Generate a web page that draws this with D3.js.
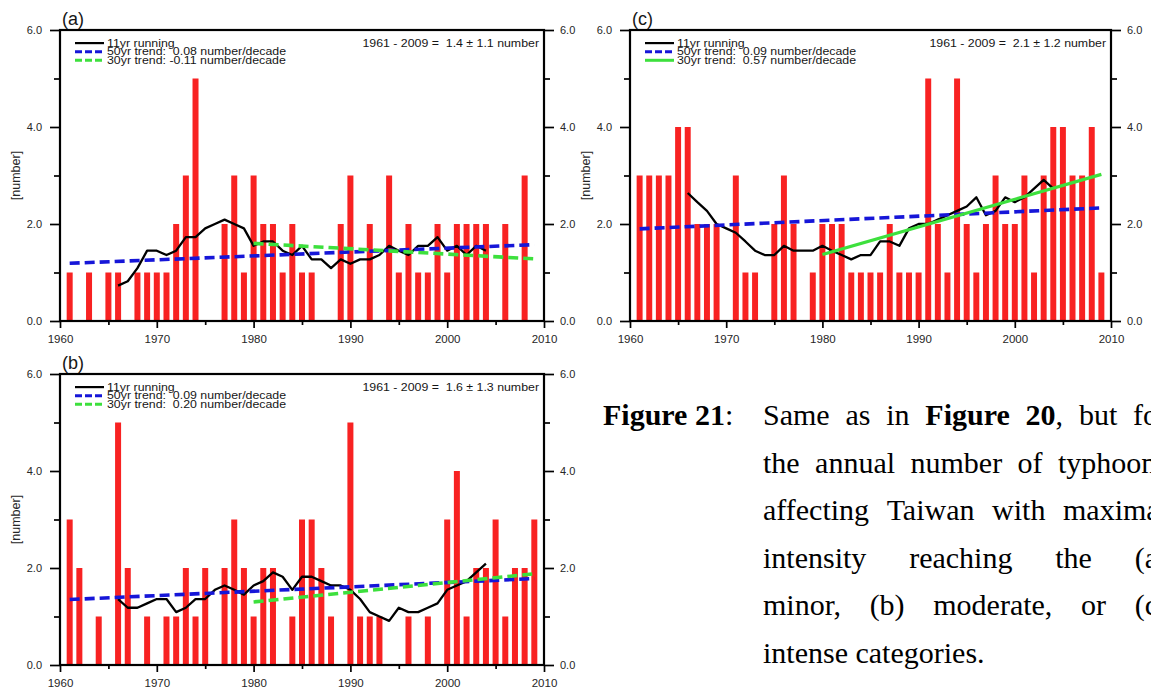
<!DOCTYPE html>
<html>
<head>
<meta charset="utf-8">
<script src="https://cdn.jsdelivr.net/npm/d3@7"></script>
<style>
  html, body { margin: 0; padding: 0; background: #fff; overflow: hidden; }
  svg { display: block; }
  svg text { white-space: pre; }
</style>
</head>
<body>
<svg id="fig" width="1151" height="688"></svg>
<script>
// Annual counts of typhoons affecting Taiwan, 1961-2009, by maximal intensity category
const firstYear = 1961;
const lastYear = 2009;

const minorCounts = [1,0,1,0,1,1,0,1,1,1, 1,2,3,5,0,0,2,3,1,3, 2,2,1,2,1,1,0,0,2,3, 0,2,0,3,1,2,1,1,2,1, 2,2,2,2,0,2,0,3,0];
const moderateCounts = [3,2,0,1,0,5,2,0,1,0, 1,1,2,1,2,0,2,3,2,1, 2,2,0,1,3,3,2,1,0,5, 1,1,1,0,0,1,0,1,0,3, 4,1,2,2,3,1,2,2,3];
const intenseCounts = [3,3,3,3,4,4,2,2,2,0, 3,1,1,0,2,3,2,0,1,2, 2,2,1,1,1,1,2,1,1,1, 5,2,1,5,2,1,2,3,2,2, 3,1,3,4,4,3,3,4,1];

// 11-year running means, centred, 1966-2004
const runningStart = 1966;
const minorRunning = [0.73,0.82,1.09,1.45,1.45,1.36,1.45,1.73,1.73,1.91, 2.00,2.09,2.00,1.91,1.55,1.64,1.64,1.45,1.36,1.55, 1.27,1.27,1.09,1.27,1.18,1.27,1.27,1.36,1.55,1.45, 1.36,1.55,1.55,1.73,1.45,1.55,1.36,1.55,1.45];
const moderateRunning = [1.36,1.18,1.18,1.27,1.36,1.36,1.09,1.18,1.36,1.36, 1.55,1.64,1.55,1.45,1.64,1.73,1.91,1.82,1.55,1.82, 1.82,1.73,1.64,1.64,1.55,1.36,1.09,1.00,0.91,1.18, 1.09,1.09,1.18,1.27,1.55,1.64,1.73,1.91,2.09];
const intenseRunning = [2.64,2.45,2.27,2.00,1.91,1.82,1.64,1.45,1.36,1.36, 1.55,1.45,1.45,1.45,1.55,1.45,1.36,1.27,1.36,1.36, 1.64,1.64,1.55,1.91,2.00,2.00,2.09,2.18,2.27,2.36, 2.55,2.18,2.27,2.55,2.45,2.55,2.73,2.91,2.73];

// Linear trends: value at the start year and slope (number/decade)
const trend50Start = 1961;
const trend30Start = 1980;
const minorTrend50 = [1.19, 0.08];
const minorTrend30 = [1.60, -0.11];
const moderateTrend50 = [1.35, 0.09];
const moderateTrend30 = [1.30, 0.20];
const intenseTrend50 = [1.90, 0.09];
const intenseTrend30 = [1.37, 0.57];

// Text
const panelLetters = ["(a)", "(b)", "(c)"];
const minorLegend = ["11yr running", "50yr trend:  0.08 number/decade", "30yr trend: -0.11 number/decade"];
const moderateLegend = ["11yr running", "50yr trend:  0.09 number/decade", "30yr trend:  0.20 number/decade"];
const intenseLegend = ["11yr running", "50yr trend:  0.09 number/decade", "30yr trend:  0.57 number/decade"];
const statTexts = ["1961 - 2009 =  1.4 \u00b1 1.1 number", "1961 - 2009 =  1.6 \u00b1 1.3 number", "1961 - 2009 =  2.1 \u00b1 1.2 number"];
const yTicksMajor = [0, 2, 4, 6];
const yTicksMinor = [1, 3, 5];
const xTicksMajor = [1960, 1970, 1980, 1990, 2000, 2010];
const xTicksMinor = [1965, 1975, 1985, 1995, 2005];
const yAxisTitle = "[number]";

const panels = [
  { letter: panelLetters[0], counts: minorCounts, running: minorRunning, t50: minorTrend50, t30: minorTrend30,
    legend: minorLegend, stat: statTexts[0], solid30: false, box: { x0: 60, x1: 544, y0: 30, y1: 321 } },
  { letter: panelLetters[1], counts: moderateCounts, running: moderateRunning, t50: moderateTrend50, t30: moderateTrend30,
    legend: moderateLegend, stat: statTexts[1], solid30: false, box: { x0: 60, x1: 544, y0: 374, y1: 665 } },
  { letter: panelLetters[2], counts: intenseCounts, running: intenseRunning, t50: intenseTrend50, t30: intenseTrend30,
    legend: intenseLegend, stat: statTexts[2], solid30: true, box: { x0: 630, x1: 1111, y0: 30, y1: 321 } }
];

const RED = "#f82222", BLUE = "#1616d8", GREEN = "#3de03d", INK = "#161616";
const SANS = "'Liberation Sans', Arial, Helvetica, sans-serif";
const SERIF = "'Liberation Serif', 'Times New Roman', serif";

const svg = d3.select("#fig");

function drawPanel(p) {
  const b = p.box;
  const x = d3.scaleLinear().domain([1960, 2010]).range([b.x0, b.x1]);
  const y = d3.scaleLinear().domain([0, 6]).range([b.y1, b.y0]);
  const g = svg.append("g");
  const barW = (x(1961) - x(1960)) * 0.62;

  // yearly bars
  g.append("g").selectAll("rect")
    .data(p.counts.map((v, i) => ({ year: firstYear + i, v })).filter(d => d.v > 0))
    .join("rect")
    .attr("x", d => x(d.year) - barW / 2)
    .attr("width", barW)
    .attr("y", d => y(d.v))
    .attr("height", d => y(0) - y(d.v))
    .attr("fill", RED);

  const ln = d3.line().x(d => x(d.yr)).y(d => y(d.v));

  // 11yr running mean
  g.append("path")
    .datum(p.running.map((v, i) => ({ yr: runningStart + i, v })))
    .attr("d", ln).attr("fill", "none").attr("stroke", "#000").attr("stroke-width", 2.3)
    .attr("stroke-linejoin", "round");

  // linear trends
  const t50 = [trend50Start, lastYear].map(yr => ({ yr, v: p.t50[0] + p.t50[1] * (yr - trend50Start) / 10 }));
  const t30 = [trend30Start, lastYear].map(yr => ({ yr, v: p.t30[0] + p.t30[1] * (yr - trend30Start) / 10 }));
  g.append("path").datum(t50).attr("d", ln).attr("fill", "none")
    .attr("stroke", BLUE).attr("stroke-width", 3.6).attr("stroke-dasharray", "10,5");
  g.append("path").datum(t30).attr("d", ln).attr("fill", "none")
    .attr("stroke", GREEN).attr("stroke-width", p.solid30 ? 3.2 : 3.6)
    .attr("stroke-dasharray", p.solid30 ? null : "10,5");

  // axes
  const styleAxis = (sel, size) => {
    sel.select(".domain").remove();
    sel.selectAll("line").attr("stroke", "#000").attr("stroke-width", 1.7);
    sel.selectAll("text").attr("font-family", SANS).attr("font-size", size).attr("fill", "#262626");
  };
  const fmt = d3.format(".1f");
  g.append("g").attr("transform", `translate(${b.x0},0)`)
    .call(d3.axisLeft(y).tickValues(yTicksMajor).tickFormat(fmt).tickSize(10).tickPadding(8))
    .call(s => styleAxis(s, 11));
  g.append("g").attr("transform", `translate(${b.x0},0)`)
    .call(d3.axisLeft(y).tickValues(yTicksMinor).tickFormat("").tickSize(6))
    .call(s => styleAxis(s, 11));
  g.append("g").attr("transform", `translate(${b.x1},0)`)
    .call(d3.axisRight(y).tickValues(yTicksMajor).tickFormat(fmt).tickSize(10).tickPadding(6))
    .call(s => styleAxis(s, 11));
  g.append("g").attr("transform", `translate(${b.x1},0)`)
    .call(d3.axisRight(y).tickValues(yTicksMinor).tickFormat("").tickSize(6))
    .call(s => styleAxis(s, 11));
  g.append("g").attr("transform", `translate(0,${b.y1})`)
    .call(d3.axisBottom(x).tickValues(xTicksMajor).tickFormat(d3.format("d")).tickSize(7).tickPadding(7))
    .call(s => styleAxis(s, 11.5));
  g.append("g").attr("transform", `translate(0,${b.y1})`)
    .call(d3.axisBottom(x).tickValues(xTicksMinor).tickFormat("").tickSize(4))
    .call(s => styleAxis(s, 11.5));

  // frame
  g.append("rect").attr("x", b.x0).attr("y", b.y0).attr("width", b.x1 - b.x0).attr("height", b.y1 - b.y0)
    .attr("fill", "none").attr("stroke", "#000").attr("stroke-width", 2.2);

  // y title
  g.append("text")
    .attr("transform", `translate(${b.x0 - 40},${(b.y0 + b.y1) / 2}) rotate(-90)`)
    .attr("text-anchor", "middle").attr("font-family", SANS).attr("font-size", 12.5).attr("fill", "#262626")
    .text(yAxisTitle);

  // panel letter
  g.append("text")
    .attr("x", b.x0 + 2).attr("y", b.y0 - 5)
    .attr("font-family", SANS).attr("font-size", 18).attr("fill", INK).text(p.letter);

  // legend
  const lg = g.append("g");
  const rowBase = b.y0 + 16.5, rowStep = 8.6;
  const lineStyles = [
    { c: "#000", w: 2.2, dash: null },
    { c: BLUE, w: 3, dash: "7,3" },
    { c: GREEN, w: 3, dash: p.solid30 ? null : "7,3" }
  ];
  p.legend.forEach((t, i) => {
    const by = rowBase + i * rowStep;
    lg.append("line").attr("x1", b.x0 + 15).attr("x2", b.x0 + 44)
      .attr("y1", by - 3.4).attr("y2", by - 3.4)
      .attr("stroke", lineStyles[i].c).attr("stroke-width", lineStyles[i].w)
      .attr("stroke-dasharray", lineStyles[i].dash);
    lg.append("text")
      .attr("transform", `translate(${b.x0 + 47},${by}) scale(1.2,1)`)
      .attr("font-family", SANS).attr("font-size", 10.3).attr("fill", INK).text(t);
  });

  // mean +/- sd
  g.append("text")
    .attr("transform", `translate(${b.x1 - 5},${rowBase}) scale(1.2,1)`)
    .attr("text-anchor", "end").attr("font-family", SANS).attr("font-size", 10.3).attr("fill", INK)
    .text(p.stat);
}

panels.forEach(drawPanel);

// Caption, justified between a left and right margin
const capLeft = 763, capRight = 1168, capLabelX = 603;
const capBaselines = [425, 472.6, 520.2, 567.8, 615.4, 663];
const capLines = [
  [[["Same", 0]], [["as", 0]], [["in", 0]], [["Figure", 1]], [["20", 1], [",", 0]], [["but", 0]], [["for", 0]]],
  [[["the", 0]], [["annual", 0]], [["number", 0]], [["of", 0]], [["typhoons", 0]]],
  [[["affecting", 0]], [["Taiwan", 0]], [["with", 0]], [["maximal", 0]]],
  [[["intensity", 0]], [["reaching", 0]], [["the", 0]], [["(a)", 0]]],
  [[["minor,", 0]], [["(b)", 0]], [["moderate,", 0]], [["or", 0]], [["(c)", 0]]],
  [[["intense", 0]], [["categories.", 0]]]
];
const capSize = 30;
const cap = svg.append("g").attr("font-family", SERIF).attr("font-size", capSize).attr("fill", "#000");

const capLabel = cap.append("text").attr("x", capLabelX).attr("y", capBaselines[0]);
capLabel.append("tspan").attr("font-weight", "bold").text("Figure 21");
capLabel.append("tspan").text(":");

capLines.forEach((words, li) => {
  const nodes = words.map(w => {
    const t = cap.append("text").attr("y", capBaselines[li]);
    w.forEach(([s, bold]) => t.append("tspan").attr("font-weight", bold ? "bold" : "normal").text(s));
    return t;
  });
  const widths = nodes.map(n => n.node().getComputedTextLength());
  const total = d3.sum(widths);
  const last = li === capLines.length - 1;
  const gap = last ? capSize * 0.25 : (capRight - capLeft - total) / (words.length - 1);
  let cx = capLeft;
  nodes.forEach((n, i) => { n.attr("x", cx); cx += widths[i] + gap; });
});
</script>
</body>
</html>
